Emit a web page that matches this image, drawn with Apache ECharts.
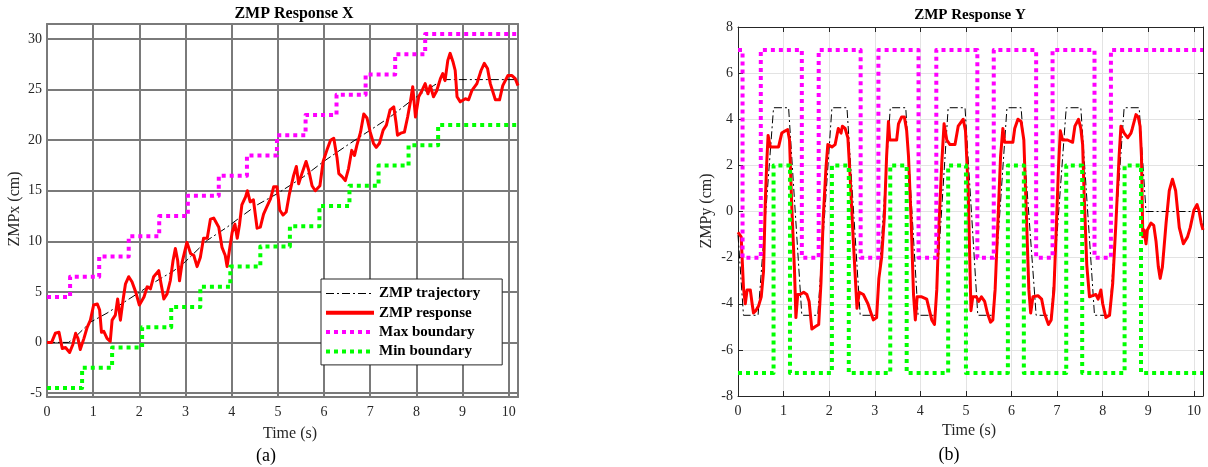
<!DOCTYPE html>
<html>
<head>
<meta charset="utf-8">
<script src="https://cdn.jsdelivr.net/npm/echarts@6/dist/echarts.min.js"></script>
<style>
  html, body { margin: 0; padding: 0; background: #fff; }
  #main { width: 1208px; height: 467px; }
</style>
</head>
<body>
<div id="main"></div>
<script>
// ticks
var timeTicks = [0, 1, 2, 3, 4, 5, 6, 7, 8, 9, 10];
var zmpxTicks = [-5, 0, 5, 10, 15, 20, 25, 30];
var zmpyTicks = [-8, -6, -4, -2, 0, 2, 4, 6, 8];

// ZMP X  [time (s), cm]
var trajX = [[0,0],[0.47,0],[0.65,0.7],[0.94,2.0],[1.3,2.9],[1.95,4.8],[2.38,6.1],[2.75,7.1],[3.0,8.0],
  [3.47,10.1],[3.9,11.4],[4.19,12.4],[4.55,13.6],[4.98,14.7],[5.56,16.4],[5.99,17.9],[6.5,19.5],
  [7.0,21.0],[7.43,22.3],[7.94,24.1],[8.37,25.4],[8.59,26.0],[10.2,26.0]];
var respX = [[0,0],[0.1,0],[0.18,0.9],[0.26,1.0],[0.33,-0.6],[0.4,-0.5],[0.49,-1.0],[0.56,-0.2],[0.62,0.9],
  [0.67,0.4],[0.72,-0.7],[0.8,0.4],[0.87,1.5],[0.94,2.2],[1.01,3.7],[1.09,3.8],[1.14,3.2],[1.18,1.0],
  [1.23,1.1],[1.3,0.4],[1.37,0.1],[1.41,2.2],[1.48,2.7],[1.53,4.3],[1.59,2.2],[1.65,4.3],[1.7,5.8],
  [1.77,6.5],[1.84,6.0],[1.92,5.0],[2.0,3.7],[2.1,4.5],[2.17,5.5],[2.24,5.3],[2.31,6.5],[2.42,7.1],
  [2.47,5.8],[2.53,4.3],[2.6,4.8],[2.67,6.1],[2.73,8.1],[2.78,9.3],[2.83,8.1],[2.87,6.1],[2.93,8.0],
  [3.03,9.9],[3.11,8.8],[3.18,8.6],[3.25,7.5],[3.32,8.4],[3.39,10.3],[3.47,10.3],[3.54,12.2],[3.61,12.3],
  [3.72,11.4],[3.79,9.4],[3.86,8.6],[3.9,7.5],[3.95,9.1],[4.01,10.9],[4.07,11.7],[4.12,10.3],[4.17,11.7],
  [4.22,13.6],[4.3,14.4],[4.34,15.0],[4.4,13.9],[4.47,14.1],[4.55,11.3],[4.62,11.4],[4.69,12.7],
  [4.76,13.4],[4.84,14.2],[4.91,15.4],[4.98,15.4],[5.04,13.1],[5.11,12.6],[5.18,12.9],[5.25,14.7],
  [5.34,16.5],[5.4,17.4],[5.45,15.7],[5.52,16.7],[5.61,17.9],[5.67,17.0],[5.74,15.5],[5.81,15.0],
  [5.91,15.5],[5.98,17.9],[6.06,19.0],[6.14,20.0],[6.21,20.2],[6.28,18.3],[6.32,16.7],[6.39,16.4],
  [6.46,16.0],[6.53,17.2],[6.6,19.0],[6.66,18.5],[6.71,19.5],[6.79,20.8],[6.86,22.6],[6.93,22.2],
  [7.0,20.8],[7.07,19.7],[7.13,19.3],[7.2,19.7],[7.28,21.0],[7.35,21.5],[7.43,23.0],[7.51,23.3],
  [7.56,21.7],[7.59,20.5],[7.66,20.7],[7.74,20.8],[7.81,22.3],[7.87,23.8],[7.92,25.3],[7.98,22.3],
  [8.05,24.3],[8.12,24.9],[8.19,25.6],[8.25,24.6],[8.3,25.4],[8.37,24.3],[8.44,24.9],[8.52,26.1],
  [8.57,26.6],[8.62,25.9],[8.68,27.9],[8.73,28.6],[8.79,27.8],[8.84,26.9],[8.88,24.3],[8.95,23.8],
  [9.06,24.1],[9.13,24.0],[9.2,24.9],[9.31,25.6],[9.4,26.9],[9.47,27.6],[9.54,27.1],[9.6,25.6],
  [9.71,24.0],[9.8,24.0],[9.87,25.4],[9.98,26.4],[10.07,26.4],[10.14,26.1],[10.2,25.4]];
var maxX = [[0,4.5],[0.5,6.5],[1.13,8.5],[1.77,10.5],[2.43,12.5],[3.05,14.5],[3.72,16.5],[4.33,18.5],
  [4.98,20.5],[5.6,22.5],[6.27,24.5],[6.9,26.5],[7.54,28.5],[8.19,30.5],[10.2,30.5]];
var minX = [[0,-4.5],[0.76,-2.5],[1.41,-0.5],[2.06,1.5],[2.69,3.5],[3.32,5.5],[3.97,7.5],[4.62,9.5],
  [5.26,11.5],[5.9,13.5],[6.55,15.5],[7.18,17.5],[7.83,19.5],[8.47,21.5],[10.2,21.5]];

// ZMP Y  [time (s), cm]
var trajY = [[0,-1.0],[0.12,-4.5],[0.44,-4.5],[0.78,4.5],[1.11,4.5],[1.4,-4.5],[1.75,-4.5],[2.06,4.5],
  [2.39,4.5],[2.68,-4.5],[3.04,-4.5],[3.34,4.5],[3.68,4.5],[3.95,-4.5],[4.32,-4.5],[4.61,4.5],[4.98,4.5],
  [5.26,-4.5],[5.59,-4.5],[5.9,4.5],[6.21,4.5],[6.54,-4.5],[6.87,-4.5],[7.2,4.5],[7.52,4.5],[7.82,-4.5],
  [8.15,-4.5],[8.47,4.5],[8.8,4.5],[8.95,0],[10.2,0]];
var respY = [[0,-0.9],[0.07,-1.1],[0.12,-3.3],[0.16,-4.0],[0.2,-3.4],[0.27,-3.4],[0.31,-4.0],[0.34,-4.4],
  [0.39,-4.3],[0.45,-4.1],[0.51,-3.7],[0.56,-2.6],[0.6,0.5],[0.63,2.1],[0.66,3.3],[0.71,2.8],[0.78,2.8],
  [0.89,2.8],[0.96,3.4],[1.04,3.5],[1.09,3.55],[1.13,3.1],[1.18,0.2],[1.24,-2.6],[1.27,-4.6],[1.31,-3.6],
  [1.36,-3.6],[1.44,-3.5],[1.51,-3.6],[1.56,-3.9],[1.62,-5.1],[1.69,-5.0],[1.77,-4.9],[1.82,-3.1],
  [1.87,-0.25],[1.93,1.9],[1.97,2.9],[2.06,2.8],[2.13,2.9],[2.2,3.6],[2.26,3.4],[2.29,3.7],[2.35,3.6],
  [2.41,3.2],[2.46,1.5],[2.53,-1.3],[2.61,-4.2],[2.66,-3.5],[2.75,-3.6],[2.85,-4.0],[2.9,-4.3],[2.97,-4.7],
  [3.04,-4.6],[3.09,-2.9],[3.15,-2.0],[3.21,-0.25],[3.26,2.4],[3.3,3.9],[3.33,3.1],[3.41,3.1],[3.48,3.1],
  [3.52,3.8],[3.59,4.1],[3.65,4.1],[3.7,3.5],[3.74,2.4],[3.8,-0.5],[3.85,-3.6],[3.89,-4.7],[3.93,-3.7],
  [4.03,-3.7],[4.14,-3.8],[4.25,-4.7],[4.31,-4.9],[4.36,-3.4],[4.41,-0.5],[4.47,2.1],[4.52,3.8],[4.58,3.1],
  [4.65,2.9],[4.76,2.9],[4.83,3.7],[4.94,4.0],[4.99,3.5],[5.05,0.9],[5.11,-4.3],[5.15,-3.7],[5.23,-3.7],
  [5.28,-3.9],[5.34,-3.7],[5.41,-3.9],[5.47,-4.4],[5.54,-4.8],[5.59,-4.7],[5.64,-3.4],[5.7,-0.5],[5.76,2.4],
  [5.81,3.6],[5.85,3.0],[5.96,3.0],[6.03,3.0],[6.07,3.6],[6.14,4.0],[6.21,3.9],[6.27,3.1],[6.32,0.2],
  [6.38,-3.4],[6.42,-4.4],[6.47,-3.7],[6.58,-3.65],[6.66,-3.8],[6.72,-4.4],[6.81,-4.9],[6.87,-4.7],
  [6.93,-3.4],[6.98,-0.8],[7.03,1.9],[7.07,3.5],[7.12,3.1],[7.23,3.1],[7.34,3.0],[7.39,3.7],[7.47,4.0],
  [7.52,3.6],[7.56,2.9],[7.59,0.9],[7.65,-2.3],[7.71,-3.7],[7.78,-3.65],[7.85,-3.6],[7.9,-3.8],[7.96,-3.4],
  [8.0,-4.0],[8.07,-4.6],[8.15,-4.5],[8.22,-3.1],[8.29,-0.5],[8.36,2.4],[8.4,3.7],[8.47,3.4],[8.55,3.2],
  [8.62,3.4],[8.65,3.6],[8.73,4.2],[8.78,4.1],[8.82,3.7],[8.85,2.4],[8.88,-1.1],[8.91,-0.8],[8.95,-1.4],
  [8.98,-0.8],[9.06,-0.5],[9.12,-0.6],[9.17,-1.3],[9.22,-2.4],[9.26,-2.9],[9.31,-2.4],[9.39,-0.5],
  [9.46,0.9],[9.53,1.4],[9.6,0.9],[9.68,-0.7],[9.77,-1.4],[9.86,-1.1],[9.92,-0.7],[10.0,0.05],[10.07,0.3],
  [10.11,0.05],[10.16,-0.5],[10.2,-0.8]];
var maxY = [[0,7],[0.1,-2],[0.5,7],[1.4,-2],[1.77,7],[2.69,-2],[3.08,7],[3.96,-2],[4.35,7],[5.25,-2],
  [5.61,7],[6.54,-2],[6.9,7],[7.82,-2],[8.18,7],[10.2,7]];
var minY = [[0,-7],[0.78,2],[1.14,-7],[2.06,2],[2.43,-7],[3.34,2],[3.7,-7],[4.61,2],[5.0,-7],[5.92,2],
  [6.27,-7],[7.2,2],[7.55,-7],[8.48,2],[8.84,-7],[10.2,-7]];

var myChart = echarts.init(document.getElementById("main"));
var serif = "'Liberation Serif', 'DejaVu Serif', serif";
var darkGray = "#7a7a7a";
var ink = "#262626";
var noFill = "rgba(0,0,0,0)";

function timeAxis(grid, pos, lineColor, lineWidth) {
  var bottom = pos === "bottom";
  return {
    type: "value",
    gridIndex: grid,
    position: pos,
    min: 0,
    max: 10.2,
    axisLine: { show: true, onZero: false, lineStyle: { color: lineColor, width: lineWidth } },
    axisTick: { show: true, inside: true, length: 5, customValues: timeTicks,
      lineStyle: { color: lineColor, width: lineWidth } },
    axisLabel: { show: bottom, customValues: timeTicks, margin: 8, color: ink,
      fontFamily: serif, fontSize: 14 },
    splitLine: { show: bottom, lineStyle: { color: grid === 0 ? darkGray : "#e3e3e3", width: grid === 0 ? 2 : 1 } }
  };
}

function valueAxis(grid, pos, min, max, ticks, lineColor, lineWidth) {
  var left = pos === "left";
  return {
    type: "value",
    gridIndex: grid,
    position: pos,
    min: min,
    max: max,
    axisLine: { show: true, onZero: false, lineStyle: { color: lineColor, width: lineWidth } },
    axisTick: { show: true, inside: true, length: 5, customValues: ticks,
      lineStyle: { color: lineColor, width: lineWidth } },
    axisLabel: { show: left, customValues: ticks, margin: 5, color: ink,
      fontFamily: serif, fontSize: 14 },
    splitLine: { show: left, lineStyle: { color: grid === 0 ? darkGray : "#e3e3e3", width: grid === 0 ? 2 : 1 } }
  };
}

function seriesOf(name, data, grid, color, width, type, step) {
  return {
    name: name,
    type: "line",
    data: data,
    xAxisIndex: grid * 2,
    yAxisIndex: grid * 2,
    symbol: "none",
    showSymbol: false,
    step: step || false,
    itemStyle: { color: noFill, borderWidth: 0 },
    lineStyle: { color: color, width: width, type: type, join: "round" }
  };
}

var dashDot = [8, 3, 2, 3];

var option = {
  animation: false,
  backgroundColor: "#fff",
  grid: [
    { left: 47, top: 24, width: 471, height: 373 },
    { left: 738, top: 27, width: 465, height: 369 }
  ],
  xAxis: [
    timeAxis(0, "bottom", darkGray, 2),
    timeAxis(0, "top", darkGray, 2),
    timeAxis(1, "bottom", ink, 1),
    timeAxis(1, "top", ink, 1)
  ],
  yAxis: [
    valueAxis(0, "left", -5.4, 31.5, zmpxTicks, darkGray, 2),
    valueAxis(0, "right", -5.4, 31.5, zmpxTicks, darkGray, 2),
    valueAxis(1, "left", -8, 8, zmpyTicks, ink, 1),
    valueAxis(1, "right", -8, 8, zmpyTicks, ink, 1)
  ],
  legend: {
    show: true,
    orient: "vertical",
    left: 321,
    top: 279,
    padding: [7, 22, 6, 3],
    itemWidth: 48,
    itemHeight: 14,
    itemGap: 4.3,
    backgroundColor: "#fff",
    borderColor: ink,
    borderWidth: 1,
    borderRadius: 0,
    itemStyle: { color: noFill, borderWidth: 0, opacity: 0 },
    data: [
      { name: "ZMP trajectory", lineStyle: { width: 1.2 } },
      { name: "ZMP response", lineStyle: { width: 4 } },
      { name: "Max boundary", lineStyle: { width: 4 } },
      { name: "Min boundary", lineStyle: { width: 4 } }
    ],
    textStyle: { fontFamily: serif, fontSize: 15, fontWeight: "bold", color: "#000", lineHeight: 14 }
  },
  series: [
    seriesOf("ZMP trajectory", trajX, 0, "#000", 1, dashDot),
    seriesOf("ZMP response", respX, 0, "#ff0000", 3, "solid"),
    seriesOf("Max boundary", maxX, 0, "#ff00ff", 4, "dotted", "end"),
    seriesOf("Min boundary", minX, 0, "#00ff00", 4, "dotted", "end"),
    seriesOf("ZMP trajectory", trajY, 1, "#000", 1, dashDot),
    seriesOf("ZMP response", respY, 1, "#ff0000", 3, "solid"),
    seriesOf("Max boundary", maxY, 1, "#ff00ff", 4, "dotted", "end"),
    seriesOf("Min boundary", minY, 1, "#00ff00", 4, "dotted", "end")
  ],
  graphic: [
    { type: "text", x: 294, y: 14, style: { text: "ZMP Response X", fill: "#000",
      font: "bold 16px " + serif, textAlign: "center", textVerticalAlign: "middle" } },
    { type: "text", x: 970, y: 15, style: { text: "ZMP Response Y", fill: "#000",
      font: "bold 15px " + serif, textAlign: "center", textVerticalAlign: "middle" } },
    { type: "text", x: 14.5, y: 209, rotation: Math.PI / 2, style: { text: "ZMPx (cm)", fill: ink,
      font: "16px " + serif, textAlign: "center", textVerticalAlign: "middle" } },
    { type: "text", x: 707, y: 211, rotation: Math.PI / 2, style: { text: "ZMPy (cm)", fill: ink,
      font: "16px " + serif, textAlign: "center", textVerticalAlign: "middle" } },
    { type: "text", x: 290, y: 434, style: { text: "Time (s)", fill: ink,
      font: "16px " + serif, textAlign: "center", textVerticalAlign: "middle" } },
    { type: "text", x: 969, y: 431, style: { text: "Time (s)", fill: ink,
      font: "16px " + serif, textAlign: "center", textVerticalAlign: "middle" } },
    { type: "text", x: 266, y: 456, style: { text: "(a)", fill: "#000",
      font: "18px " + serif, textAlign: "center", textVerticalAlign: "middle" } },
    { type: "text", x: 949, y: 455, style: { text: "(b)", fill: "#000",
      font: "18px " + serif, textAlign: "center", textVerticalAlign: "middle" } }
  ]
};

myChart.setOption(option);
</script>
</body>
</html>
